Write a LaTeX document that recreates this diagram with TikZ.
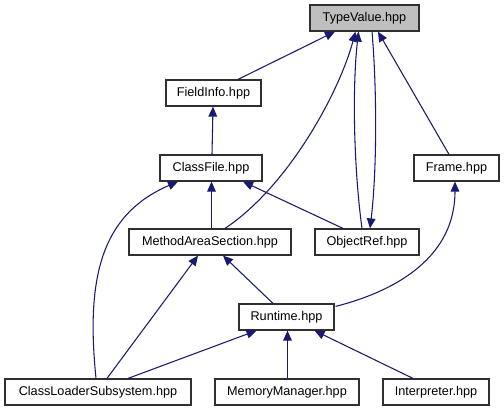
\documentclass[tikz,border=0pt]{standalone}
\usepackage{fontspec}
\setmainfont{Liberation Sans}
\usetikzlibrary{arrows.meta,calc}
\definecolor{edgec}{HTML}{191970}
\definecolor{rootfill}{HTML}{BFBFBF}
\definecolor{boxline}{HTML}{303030}
\begin{document}
\begin{tikzpicture}[x=0.75pt,y=-0.75pt,
  filebox/.style={draw=boxline,line width=0.9pt,fill=white,rectangle,inner sep=0pt,
    minimum height={26*0.75pt},font=\fontsize{9.5}{11}\selectfont},
  rootbox/.style={filebox,fill=rootfill},
  dep/.style={draw=edgec,line width=0.8pt,-{Triangle[length=7.5pt,width=6.5pt]},fill=none},
  ]
\useasboundingbox (0,0) rectangle (504,411);
\node[rootbox,minimum width={109*0.75pt}] (TV) at (364.5,18) {TypeValue.hpp};
\node[filebox,minimum width={95*0.75pt}] (FI) at (213.5,93) {FieldInfo.hpp};
\node[filebox,minimum width={102*0.75pt}] (CF) at (211,168) {ClassFile.hpp};
\node[filebox,minimum width={85*0.75pt}] (FR) at (456.5,168) {Frame.hpp};
\node[filebox,minimum width={162*0.75pt}] (MAS) at (210,242) {MethodAreaSection.hpp};
\node[filebox,minimum width={104*0.75pt}] (OR) at (367,242) {ObjectRef.hpp};
\node[filebox,minimum width={95*0.75pt}] (RT) at (286.5,317) {Runtime.hpp};
\node[filebox,minimum width={186*0.75pt}] (CLS) at (98,392) {ClassLoaderSubsystem.hpp};
\node[filebox,minimum width={144*0.75pt}] (MM) at (287,392) {MemoryManager.hpp};
\node[filebox,minimum width={106*0.75pt}] (IN) at (436,392) {Interpreter.hpp};

% edges to TypeValue
\draw[dep] ($(FI.north)+(24.5,0)$) -- ($(TV.south)+(-29.5,0)$);
\draw[dep] ($(MAS.north)+(15,0)$) .. controls (290,185) and (340,90) .. ($(TV.south)+(-9,0)$);
\draw[dep] ($(OR.north)+(-5,0)$) .. controls (354,170) and (352,90) .. ($(TV.south)+(-6,0)$);
\draw[dep] ($(TV.south)+(7.5,0)$) .. controls (377,90) and (377,170) .. ($(OR.north)+(3,0)$);
\draw[dep] ($(FR.north)+(-7.5,0)$) -- ($(TV.south)+(13.5,0)$);
% ClassFile -> FieldInfo
\draw[dep] ($(CF.north)+(1,0)$) -- ($(FI.south)+(-0.5,0)$);
% to ClassFile
\draw[dep] ($(MAS.north)+(1.5,0)$) -- ($(CF.south)+(0.5,0)$);
\draw[dep] ($(OR.north)+(-24,0)$) -- ($(CF.south)+(32,0)$);
\draw[dep] ($(CLS.north)+(-2,0)$) .. controls (86,280) and (100,215) .. ($(CF.south)+(-33,0)$);
% to MethodAreaSection
\draw[dep] ($(CLS.north)+(9,0)$) -- ($(MAS.south)+(-12,0)$);
\draw[dep] ($(RT.north)+(-13.5,0)$) -- ($(MAS.south)+(13,0)$);
% Runtime -> Frame
\draw[dep] ($(RT.north east)+(1,3)$) .. controls (400,290) and (455,255) .. ($(FR.south)+(-1.5,0)$);
% to Runtime
\draw[dep] ($(CLS.north)+(30,0)$) -- ($(RT.south)+(-30,0)$);
\draw[dep] ($(MM.north)+(0.5,0)$) -- ($(RT.south)+(1,0)$);
\draw[dep] ($(IN.north)+(-23,0)$) -- ($(RT.south)+(28,0)$);
\end{tikzpicture}
\end{document}
